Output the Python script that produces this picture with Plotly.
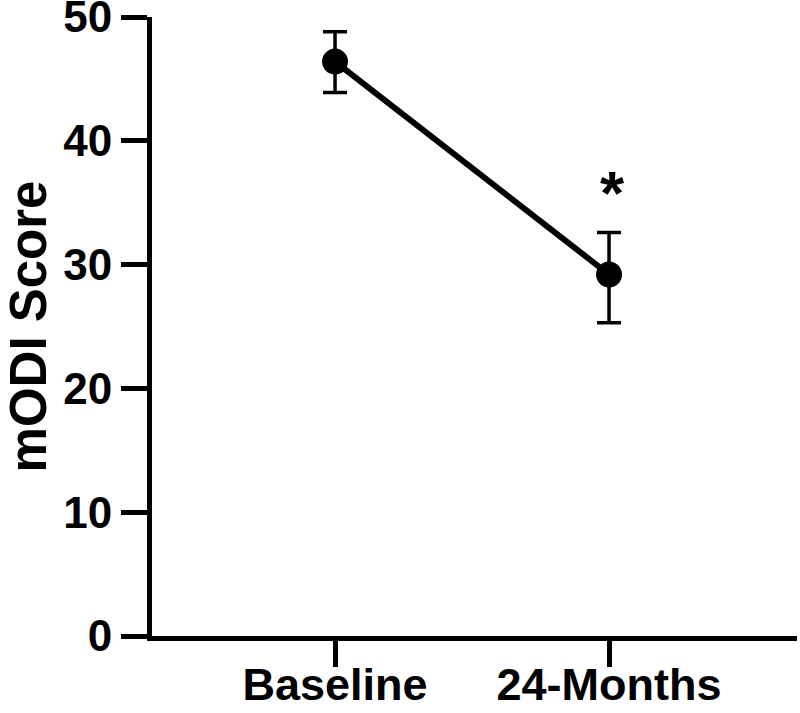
import plotly.graph_objects as go

categories = ["Baseline", "24-Months"]
mean_scores = [46.4, 29.2]
err_plus = [2.4, 3.4]
err_minus = [2.5, 3.9]
y_ticks = [0, 10, 20, 30, 40, 50]
sig_label = "*"
sig_y = 35.85

FONT = "Liberation Sans, Arial, sans-serif"

fig = go.Figure()
fig.add_trace(go.Scatter(
    x=[0, 1], y=mean_scores,
    mode="lines+markers",
    line=dict(color="black", width=6),
    marker=dict(color="black", size=26),
    error_y=dict(type="data", symmetric=False, array=err_plus, arrayminus=err_minus,
                 color="black", thickness=3.5, width=12),
    showlegend=False,
    cliponaxis=False,
))

fig.add_annotation(x=1, y=sig_y, text=f"<b>{sig_label}</b>", showarrow=False,
                   font=dict(family=FONT, size=62, color="black"), yanchor="middle", xshift=3)

fig.update_layout(
    width=800, height=713,
    margin=dict(l=152, r=3, t=17, b=77),
    plot_bgcolor="white", paper_bgcolor="white",
    font=dict(family=FONT, color="black"),
)
fig.update_xaxes(
    range=[-0.668, 1.686],
    tickmode="array", tickvals=[0, 1], ticktext=[f"<b>{c}</b>" for c in categories],
    showline=True, linecolor="black", linewidth=5,
    ticks="outside", ticklen=26, tickwidth=5, tickcolor="black",
    showgrid=False, zeroline=False, automargin=False,
    ticklabelstandoff=-21,
    tickfont=dict(family=FONT, size=45, color="black"),
)
fig.update_yaxes(
    range=[0, 50],
    tickmode="array", tickvals=y_ticks, ticktext=[f"<b>{t}</b>" for t in y_ticks],
    showline=True, linecolor="black", linewidth=5,
    ticks="outside", ticklen=26, tickwidth=5, tickcolor="black",
    showgrid=False, zeroline=False, automargin=False,
    ticklabeloverflow="allow",
    tickfont=dict(family=FONT, size=44, color="black"),
    title=dict(text="<b>mODI Score</b>", font=dict(family=FONT, size=51, color="black"), standoff=8),
)

fig.write_html("out.html")
